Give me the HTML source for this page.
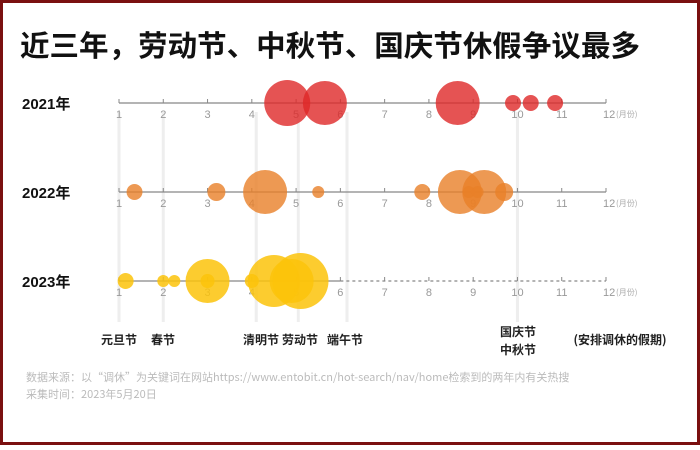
<!DOCTYPE html>
<html><head><meta charset="utf-8">
<style>
html,body{margin:0;padding:0;background:#fff;}
body{width:700px;height:445px;overflow:hidden;font-family:"Liberation Sans","Noto Sans CJK SC",sans-serif;}
</style></head>
<body>
<svg width="700" height="445" viewBox="0 0 700 445" xmlns="http://www.w3.org/2000/svg">
<rect x="1.5" y="1.5" width="697" height="442" fill="#fff" stroke="#7a1010" stroke-width="3"/>
<text x="20" y="56" font-size="29" font-weight="bold" fill="#111" font-family="'Noto Sans CJK SC',sans-serif" textLength="620" lengthAdjust="spacingAndGlyphs">近三年，劳动节、中秋节、国庆节休假争议最多</text>
<g id="guides"></g>
<g id="axes"></g>
<g id="bubbles"></g>
<g id="labels" font-family="'Noto Sans CJK SC',sans-serif" font-weight="bold" font-size="12" fill="#222"></g>
<text x="26" y="381" font-size="11" fill="#bbb" font-family="'Noto Sans CJK SC',sans-serif">数据来源：以“调休”为关键词在网站https://www.entobit.cn/hot-search/nav/home检索到的两年内有关热搜</text>
<text x="26" y="398" font-size="11" fill="#bbb" font-family="'Noto Sans CJK SC',sans-serif">采集时间：2023年5月20日</text>
</svg>
<script>
const years=["2021年","2022年","2023年"];
const months=[1,2,3,4,5,6,7,8,9,10,11,12];
const holidayNames=["元旦节","春节","清明节","劳动节","端午节","国庆节\n中秋节","(安排调休的假期)"];
const holidayMonths=[1,2,4.1,5.05,6.15,10,null];
const b2021=[[4.8,23],[5.65,22],[8.65,22],[9.9,8],[10.3,8],[10.85,8]];
const b2022=[[1.35,8],[3.2,9],[4.3,22],[5.5,6],[7.85,8],[8.7,22],[9.25,22],[9.7,9],[8.9,6],[9.1,6]];
const b2023=[[1.15,8],[2.0,6],[2.25,6],[3.0,22],[3.0,7],[4.0,7],[4.5,26],[4.9,22],[5.1,28]];
const series=[b2021,b2022,b2023];
const colors=["rgba(222,40,40,0.8)","rgba(232,128,40,0.8)","rgba(252,195,10,0.85)"];
const ns="http://www.w3.org/2000/svg";
const xS=m=>119+(m-1)*(606-119)/11;
const rowY=[103,192,281];
function mk(tag,attrs,parent){const e=document.createElementNS(ns,tag);for(const k in attrs)e.setAttribute(k,attrs[k]);parent.appendChild(e);return e;}
const G=document.getElementById('guides'),A=document.getElementById('axes'),B=document.getElementById('bubbles'),L=document.getElementById('labels');
holidayMonths.forEach((m,i)=>{ if(m===null)return;
  const l=mk('line',{x1:xS(m),x2:xS(m),y1:112,y2:322,stroke:'#eee','stroke-width':3},G);
  
  
});
rowY.forEach((y,r)=>{
  const yl=mk('text',{x:22,y:y+6,'font-size':15,'font-weight':'bold',fill:'#111'},A);yl.textContent=years[r];
  
  
  const endSolid = r===2?xS(6):xS(12);
  const ax=mk('line',{x1:xS(1),x2:endSolid,y1:y,y2:y,stroke:'#888','stroke-width':1.2},A);
  
  
  if(r===2){const d=mk('line',{x1:xS(6),x2:xS(12),y1:y,y2:y,stroke:'#888','stroke-width':1.2,'stroke-dasharray':'3,3'},A);
    
    }
  months.forEach(m=>{
    mk('line',{x1:xS(m),x2:xS(m),y1:y-4,y2:y,stroke:'#888'},A);
    const t=mk('text',{x:xS(m),y:y+15,'font-size':11,fill:'#999','text-anchor':m===12?'start':'middle'},A);
    t.textContent=String(m);
    if(m===12){t.setAttribute('x',xS(m)-3);}
    
    
  });
  const u=mk('text',{x:xS(12)+10,y:y+14,'font-size':8,fill:'#aaa','font-family':"'Noto Sans CJK SC',sans-serif"},A);u.textContent='(月份)';
  
  
  series[r].forEach(([m,rad])=>{
    const c=mk('circle',{cx:xS(m),cy:y,r:rad,fill:colors[r]},B);
    
    
  });
});
const labelX=[119,163,261,300,345,518,620];
holidayNames.forEach((n,i)=>{
  const parts=n.split('\n');
  parts.forEach((p,j)=>{
    const t=mk('text',{x:labelX[i],y:(parts.length>1?336:344)+j*18,'text-anchor':'middle'},L);
    t.textContent=p;
    
    
  });
});
</script>
</body></html>
